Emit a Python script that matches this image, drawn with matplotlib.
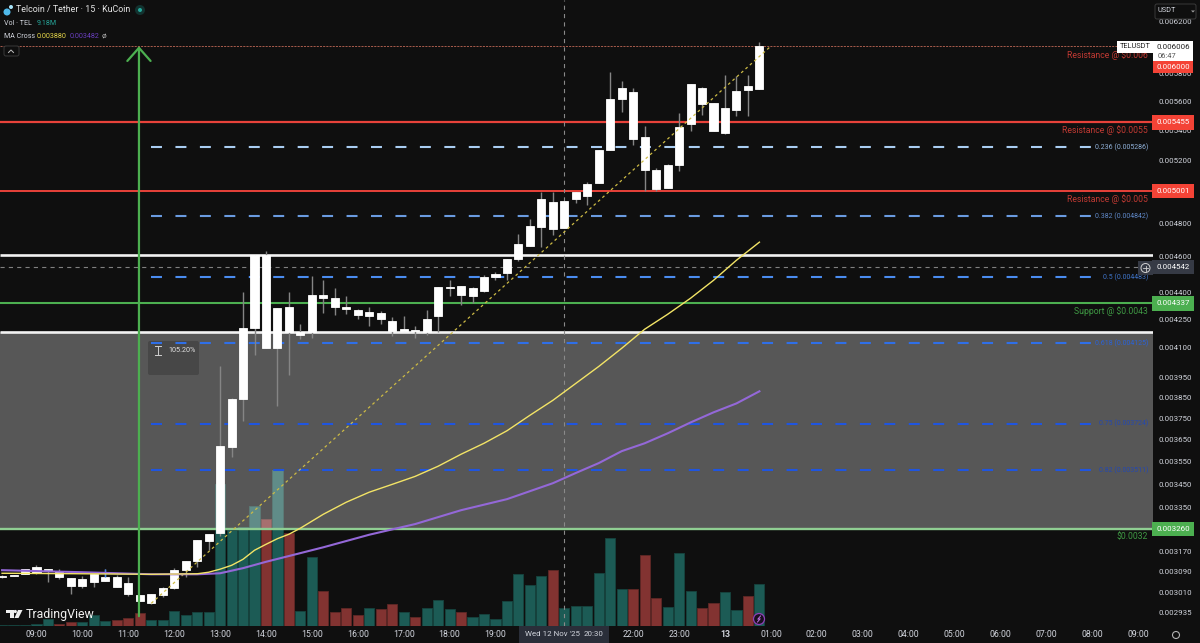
import numpy as np
import matplotlib
matplotlib.use("Agg")
import matplotlib.pyplot as plt
from matplotlib.patches import Rectangle, FancyBboxPatch, Circle, Polygon

plt.rcParams['font.family'] = ['Roboto', 'DejaVu Sans']
plt.rcParams['lines.scale_dashes'] = False

# prices are in thousandths of USDT, one entry per 15 min bar, first bar is 08:15
first_bar = -3
body_top = [3.071, 3.075, 3.099, 3.107, 3.099, 3.091, 3.063, 3.060, 3.079, 3.067, 3.067, 3.044, 2.998, 3.005, 3.025, 3.095,
            3.130, 3.215, 3.239, 3.621, 3.842, 4.204, 4.610, 4.610, 4.311, 4.317, 4.182, 4.383, 4.383, 4.366, 4.317, 4.300,
            4.289, 4.283, 4.241, 4.198, 4.193, 4.251, 4.427, 4.427, 4.432, 4.421, 4.484, 4.501, 4.587, 4.675, 4.783, 4.949,
            4.930, 4.936, 4.993, 5.044, 5.266, 5.617, 5.696, 5.667, 5.354, 5.134, 5.167, 5.421, 5.725, 5.696, 5.589, 5.554,
            5.675, 5.710, 6.006]
body_bot = [3.067, 3.073, 3.079, 3.083, 3.095, 3.067, 3.032, 3.032, 3.048, 3.052, 3.029, 3.002, 2.975, 2.968, 2.998, 3.025,
            3.095, 3.130, 3.212, 3.243, 3.616, 3.842, 4.204, 4.099, 4.099, 4.182, 4.167, 4.182, 4.366, 4.317, 4.306, 4.272,
            4.267, 4.251, 4.188, 4.188, 4.188, 4.182, 4.267, 4.421, 4.383, 4.377, 4.405, 4.484, 4.507, 4.587, 4.663, 4.777,
            4.765, 4.771, 4.949, 4.968, 5.050, 5.266, 5.617, 5.340, 5.134, 5.012, 5.019, 5.167, 5.442, 5.582, 5.394, 5.380,
            5.540, 5.682, 5.689]
wick_high = [3.075, 3.077, 3.099, 3.115, 3.101, 3.099, 3.063, 3.071, 3.079, 3.099, 3.075, 3.067, 2.998, 3.005, 3.029, 3.103,
             3.130, 3.215, 3.239, 4.006, 3.847, 4.400, 4.610, 4.634, 4.311, 4.400, 4.225, 4.490, 4.466, 4.421, 4.377, 4.306,
             4.317, 4.294, 4.262, 4.267, 4.214, 4.300, 4.427, 4.466, 4.432, 4.427, 4.495, 4.513, 4.587, 4.735, 4.825, 4.993,
             4.993, 4.936, 4.993, 5.057, 5.266, 5.812, 5.747, 5.696, 5.429, 5.147, 5.174, 5.519, 5.725, 5.703, 5.589, 5.789,
             5.781, 5.789, 6.040]
wick_low = [3.063, 3.071, 3.079, 3.081, 3.048, 3.060, 3.005, 3.025, 3.029, 3.052, 3.029, 2.995, 2.975, 2.964, 2.991, 3.021,
            3.067, 3.107, 3.174, 3.233, 3.571, 3.736, 4.062, 4.099, 3.808, 3.961, 4.145, 4.151, 4.283, 4.272, 4.278, 4.251,
            4.214, 4.225, 4.161, 4.188, 4.151, 4.167, 4.182, 4.377, 4.328, 4.339, 4.400, 4.466, 4.466, 4.576, 4.663, 4.657,
            4.729, 4.771, 4.924, 4.912, 5.050, 5.266, 5.525, 5.300, 5.000, 5.000, 5.019, 5.128, 5.394, 5.505, 5.394, 5.374,
            5.498, 5.498, 5.689]
# volume in millions of TEL
volume = [0.22, 0.22, 0.22, 0.33, 1.53, 0.44, 0.87, 0.87, 2.40, 1.09, 1.31, 1.75, 2.84, 1.31, 1.31, 3.28,
          2.40, 3.06, 3.06, 31.04, 20.99, 21.64, 26.23, 23.39, 34.10, 20.33, 3.28, 15.08, 7.65, 3.06, 3.93, 2.40,
          3.93, 3.72, 4.81, 3.06, 1.97, 3.93, 5.68, 3.72, 3.06, 1.97, 2.62, 1.53, 5.47, 11.37, 8.96, 10.93,
          12.24, 3.93, 4.37, 4.37, 11.59, 19.24, 8.09, 8.09, 15.52, 6.12, 4.15, 15.96, 7.65, 3.93, 5.03, 7.43,
          3.50, 6.56, 9.18]
vol_up = [1, 1, 1, 1, 1, 0, 0, 1, 1, 1, 0, 0, 0, 1, 1, 1,
          1, 1, 1, 1, 1, 1, 1, 0, 1, 0, 1, 1, 0, 0, 0, 0,
          1, 0, 0, 1, 0, 1, 1, 1, 0, 1, 1, 1, 1, 1, 1, 1,
          0, 1, 1, 1, 1, 1, 1, 0, 0, 0, 1, 1, 1, 0, 0, 1,
          1, 0, 1]

fast_bars = [-3, 4, 10, 14, 15, 16, 17, 18, 19, 20, 21, 22, 23, 25, 27, 29, 31, 33, 35, 37, 39, 41, 43, 45, 47, 49, 51, 53, 55, 57, 59, 61, 63]
fast_ma = [3.083, 3.081, 3.079, 3.081, 3.087, 3.099, 3.114, 3.138, 3.174, 3.198, 3.221, 3.239, 3.264, 3.322, 3.373, 3.416, 3.450,
           3.485, 3.530, 3.584, 3.634, 3.692, 3.765, 3.837, 3.920, 4.005, 4.098, 4.198, 4.278, 4.366, 4.466, 4.581, 4.687]
slow_bars = [-3, 4, 10, 14, 16, 18, 20, 22, 25, 29, 33, 37, 41, 45, 47, 49, 51, 53, 55, 57, 59, 61, 63]
slow_ma = [3.095, 3.087, 3.079, 3.079, 3.083, 3.103, 3.128, 3.151, 3.186, 3.237, 3.281, 3.339, 3.386, 3.455, 3.500, 3.544, 3.598,
           3.634, 3.680, 3.731, 3.779, 3.822, 3.881]

fib_levels = [5.286, 4.842, 4.483, 4.125, 3.724, 3.511]
fib_labels = ['0.236 (0.005286)', '0.382 (0.004842)', '0.5 (0.004483)', '0.618 (0.004125)', '0.75 (0.003724)', '0.82 (0.003511)']
fib_colors = ['#a9cdf2', '#6a9be0', '#4a8cf0', '#2f6fe8', '#1f55e0', '#1f55e0']
fib_text_colors = ['#8fb0d8', '#5f88c8', '#3f74c8', '#2a62d8', '#2448b0', '#2448b0']
fib_span = [10, 92.3]

trend_bars = [10, 64]
trend_prices = [2.968, 6.006]

price_ticks = [6.2, 5.8, 5.6, 5.4, 5.2, 4.8, 4.6, 4.4, 4.25, 4.1, 3.95, 3.85, 3.75, 3.65, 3.55, 3.45, 3.35, 3.17, 3.09, 3.01, 2.935]
time_bars = [0, 4, 8, 12, 16, 20, 24, 28, 32, 36, 40, 52, 56, 60, 64, 68, 72, 76, 80, 84, 88, 92, 96]
time_labels = ['09:00', '10:00', '11:00', '12:00', '13:00', '14:00', '15:00', '16:00', '17:00', '18:00', '19:00',
               '22:00', '23:00', '13', '01:00', '02:00', '03:00', '04:00', '05:00', '06:00', '07:00', '08:00', '09:00']

BG = '#0f0f0f'
TXT = '#d1d4dc'
RED = '#e8423a'
GREEN = '#4caf50'

fig = plt.figure(figsize=(12, 6.43), dpi=100, facecolor=BG)
rect = [0, 17 / 643, 1153 / 1200, 626 / 643]

bars = first_bar + np.arange(len(body_top))
top = np.array(body_top) * 1e-3
bot = np.array(body_bot) * 1e-3
hi = np.array(wick_high) * 1e-3
lo = np.array(wick_low) * 1e-3

# volume sits under the main pane so the grey zone washes over it
vax = fig.add_axes(rect, facecolor=BG, zorder=1)
vax.bar(bars, volume, width=0.88, color=['#1c5b55' if u else '#823331' for u in vol_up],
        edgecolor=['#16443f' if u else '#5f2725' for u in vol_up], linewidth=0.6)
vax.set_xlim(-3.18, 97.3)
vax.set_ylim(0, 136.8)
vax.axis('off')

ax = fig.add_axes(rect, zorder=2)
ax.patch.set_alpha(0)
ax.set_yscale('log')
ax.set_xlim(-3.18, 97.3)
ax.set_ylim(0.002884, 0.006367)
for s in ax.spines.values():
    s.set_visible(False)

ax.axhspan(0.00326, 0.004185, color='white', alpha=0.3, lw=0, zorder=1)

ax.hlines(0.005455, -3.18, 97.3, color=RED, lw=1.6, zorder=2)
ax.hlines(0.005001, -3.18, 97.3, color=RED, lw=1.4, zorder=2)
ax.hlines(0.00461, -3.18, 97.3, color='#f2f2f2', lw=1.9, zorder=2)
ax.hlines(0.004185, -3.18, 97.3, color='#f2f2f2', lw=1.9, zorder=2)
ax.hlines(0.004337, -3.18, 97.3, color=GREEN, lw=1.5, zorder=2)
ax.hlines(0.00326, -3.18, 97.3, color='#8fce92', lw=1.7, zorder=2)
ax.plot([-3.18, 94.3], [0.006006, 0.006006], color='#a85c4c', lw=0.7, ls=(0, (1.5, 0.8)), zorder=2)
ax.plot([-3.18, 96], [0.004542, 0.004542], color='#808080', lw=0.8, ls=(0, (3, 3)), zorder=2)
ax.vlines(46, 0.002884, 0.006367, color='#8a8a8a', lw=0.8, ls=(0, (3, 3)), zorder=2)

for level, col in zip(fib_levels, fib_colors):
    ax.plot(fib_span, [level * 1e-3] * 2, color=col, lw=1.5, ls=(0, (7.9, 9.7)), dash_capstyle='butt', zorder=3)

# candles
ax.vlines(bars, lo, hi, color='#858585', lw=1.0, zorder=4)
ax.vlines([6], [0.003067], [0.003099], color='#3f7fe8', lw=1.0, zorder=6)
ax.bar(bars, top - bot, bottom=bot, width=0.7, color='white', edgecolor='white', linewidth=0.6, zorder=5)

ax.plot(trend_bars, np.array(trend_prices) * 1e-3, color='#cdbb45', lw=0.9, ls=(0, (2, 2.2)), zorder=6)
ax.plot(slow_bars, np.array(slow_ma) * 1e-3, color='#9468d8', lw=1.5, zorder=7)
ax.plot(fast_bars, np.array(fast_ma) * 1e-3, color='#f3e466', lw=1.0, zorder=7)

ax.annotate('', xy=(8.93, 0.006006), xytext=(8.93, 0.00292), zorder=8, annotation_clip=False,
            arrowprops=dict(arrowstyle='->,head_length=0.43,head_width=0.38', mutation_scale=22, color=GREEN, lw=1.6,
                            shrinkA=0, shrinkB=0))

ax.yaxis.tick_right()
ax.set_yticks([p * 1e-3 for p in price_ticks])
ax.set_yticklabels(['%.6f' % (p * 1e-3) for p in price_ticks], color=TXT, fontsize=5.7)
ax.minorticks_off()
ax.tick_params(axis='y', which='both', length=0, pad=4)
ax.set_xticks(time_bars)
ax.set_xticklabels(time_labels, color=TXT, fontsize=6.3)
ax.tick_params(axis='x', length=0, pad=3)
for lab, t in zip(ax.get_xticklabels(), time_labels):
    if t == '13':
        lab.set_fontweight('bold')

ytrans = ax.get_yaxis_transform()


def price_tag(price, text, color, fg='white'):
    ax.text(1.0175, price, text, transform=ytrans, color=fg, fontsize=5.7, ha='center', va='center', zorder=20, clip_on=False,
            bbox=dict(boxstyle='square,pad=0.55', fc=color, ec='none'))


def note(price, text, color, dy=-8):
    ax.annotate(text, xy=(0.9957, price), xycoords=ytrans, xytext=(0, dy), textcoords='offset pixels', color=color,
                fontsize=6.2, ha='right', va='center', zorder=9)


price_tag(0.005455, '0.005455', '#f44336')
price_tag(0.005001, '0.005001', '#f44336')
price_tag(0.004542, '0.004542', '#363a45')
price_tag(0.004337, '0.004337', GREEN)
price_tag(0.00326, '0.003260', GREEN)

note(0.0060, 'Resistance @ $0.006', '#c23a33')
note(0.005455, 'Resistance @ $0.0055', '#c23a33')
note(0.005001, 'Resistance @ $0.005', '#c23a33')
note(0.004337, 'Support @ $0.0043', '#3f9a44')
note(0.00326, '$0.0032', '#3f9a44')

for level, label, col in zip(fib_levels, fib_labels, fib_text_colors):
    ax.text(0.9957, level * 1e-3, label, transform=ytrans, color=col, fontsize=5.0, ha='right', va='center', zorder=9)

# screen furniture in pixel coordinates
ov = fig.add_axes([0, 0, 1, 1], zorder=5)
ov.patch.set_alpha(0)
ov.set_xlim(0, 1200)
ov.set_ylim(643, 0)
ov.axis('off')

# position measure box goes under the fib dashes
ax.add_patch(FancyBboxPatch((148, 341), 51, 34, boxstyle='round,pad=0,rounding_size=2', fc='#474747', ec='none',
                            transform=ov.transData, zorder=2.5))
ov.text(182, 350, '105.20%', color='#e0e0e0', fontsize=5.2, ha='center', va='center')
ov.plot([155, 161], [346, 346], color='#d0d0d0', lw=0.7)
ov.plot([155, 161], [355, 355], color='#d0d0d0', lw=0.7)
ov.plot([158, 158], [346, 355], color='#d0d0d0', lw=0.7)

# legend
ov.add_patch(Circle((7, 12), 3.5, fc='#4fb9ea', ec='none'))
ov.add_patch(Circle((11, 7), 2, fc='#a7e3f8', ec='none'))
ov.text(16, 10, 'Telcoin / Tether · 15 · KuCoin', color='#e6e6e6', fontsize=6.4, va='center')
ov.add_patch(Circle((140, 10), 5, fc='#123330', ec='none'))
ov.add_patch(Circle((140, 10), 2, fc='#26a69a', ec='none'))
ov.text(4, 23.5, 'Vol · TEL', color=TXT, fontsize=5.1, va='center')
ov.text(37, 23.5, '9.18M', color='#26a69a', fontsize=5.1, va='center')
ov.text(4, 37, 'MA Cross', color=TXT, fontsize=5.1, va='center')
ov.text(37, 37, '0.003880', color='#e8d84a', fontsize=5.1, va='center')
ov.text(70, 37, '0.003482', color='#6a3fc0', fontsize=5.1, va='center')
ov.text(104, 36.5, 'ø', color='#b0b0b0', fontsize=6, ha='center', va='center')
ov.add_patch(FancyBboxPatch((4, 46), 15, 10, boxstyle='round,pad=0,rounding_size=2', fc=BG, ec='#3a3a3a', lw=0.7))
ov.plot([8.5, 11, 13.5], [52.5, 50, 52.5], color='#c0c0c0', lw=0.7)

# scale widgets
ov.add_patch(FancyBboxPatch((1155, 4), 41, 15, boxstyle='round,pad=0,rounding_size=2', fc=BG, ec='#3a3a3a', lw=0.7))
ov.text(1157, 11, 'USDT', color=TXT, fontsize=5.3, va='center')
ov.add_patch(Polygon([[1191, 10.5], [1195, 10.5], [1193, 12.5]], fc='#a0a0a0', ec='none'))
ov.add_patch(Rectangle((1117, 41), 36, 12, fc='white', ec='none'))
ov.text(1135, 47, 'TELUSDT', color='#222222', fontsize=5.3, ha='center', va='center')
ov.add_patch(Rectangle((1153, 41), 40, 20, fc='white', ec='none'))
ov.text(1173, 47, '0.006006', color='#222222', fontsize=5.7, ha='center', va='center')
ov.text(1167, 56, '06:47', color='#555555', fontsize=5.4, ha='center', va='center')
# the target tag is pushed below the live price tag by the scale
ov.add_patch(Rectangle((1153, 61), 40, 11.5, fc='#f44336', ec='none'))
ov.text(1173, 67, '0.006000', color='white', fontsize=5.7, ha='center', va='center')
ov.add_patch(Rectangle((1138, 261), 15, 14, fc='#363a45', ec='none'))
ov.add_patch(Circle((1145.5, 268), 4.5, fc='none', ec='#d0d0d0', lw=0.7))
ov.plot([1143, 1148], [268, 268], color='#d0d0d0', lw=0.6)
ov.plot([1145.5, 1145.5], [265.5, 270.5], color='#d0d0d0', lw=0.6)

# time cursor tag
ov.add_patch(Rectangle((519, 626), 90, 17, fc='#2a2e39', ec='none'))
ov.text(525, 634.5, "Wed 12 Nov '25", color=TXT, fontsize=5.7, va='center')
ov.text(584, 634.5, '20:30', color=TXT, fontsize=5.7, va='center')
ov.add_patch(Circle((1176, 635), 3.5, fc='none', ec='#b0b0b0', lw=0.8))

# lightning badge
ov.add_patch(Circle((759, 619), 5.5, fc='#1a1020', ec='#8e3fb8', lw=0.9))
ov.plot([760.5, 757.8, 760.2, 757.5], [616, 619.2, 618.8, 622], color='#c070e0', lw=0.7)

# TradingView mark
ov.add_patch(Polygon([[6, 610], [13.5, 610], [13.5, 618], [9.5, 618], [9.5, 612.5], [6, 612.5]], fc='#f0f0f0', ec='none'))
ov.add_patch(Circle((15.3, 611.5), 1.6, fc='#f0f0f0', ec='none'))
ov.add_patch(Polygon([[18, 610], [22.5, 610], [18.5, 618], [14.5, 618]], fc='#f0f0f0', ec='none'))
ov.text(26, 614.5, 'TradingView', color='#f0f0f0', fontsize=8.9, va='center')

fig.savefig('out.png', dpi=100, facecolor=BG)
